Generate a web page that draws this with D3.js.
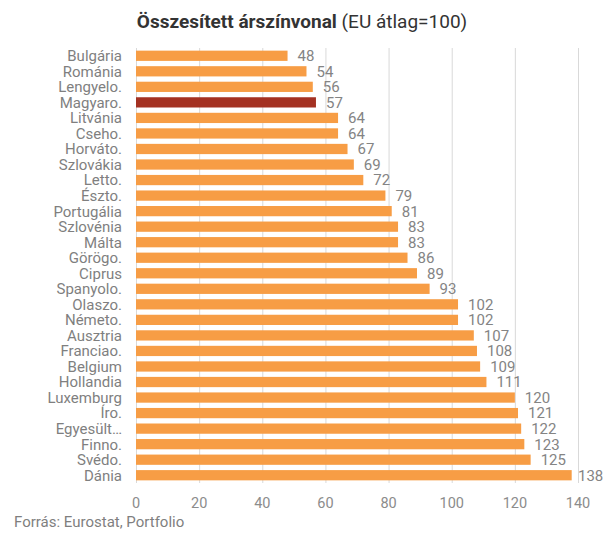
<!DOCTYPE html>
<html><head><meta charset="utf-8">
<script src="https://cdn.jsdelivr.net/npm/d3@7"></script>
<style>body{margin:0;background:#fff;} text{font-family:Roboto, "Noto Sans", sans-serif;}</style>
</head><body>
<svg id="c" width="605" height="539"></svg>
<script>
const categories = ["Bulgária","Románia","Lengyelo.","Magyaro.","Litvánia","Cseho.","Horváto.","Szlovákia","Letto.","Észto.","Portugália","Szlovénia","Málta","Görögo.","Ciprus","Spanyolo.","Olaszo.","Németo.","Ausztria","Franciao.","Belgium","Hollandia","Luxemburg","Íro.","Egyesült…","Finno.","Svédo.","Dánia"];
const values = [48,54,56,57,64,64,67,69,72,79,81,83,83,86,89,93,102,102,107,108,109,111,120,121,122,123,125,138];
const highlight = ["Magyaro."];
const xTicks = [0,20,40,60,80,100,120,140];

(function(){
const svg = d3.select("#c");
const mLeft = 136, mRight = 578, mTop = 48, mBottom = 483;
const x = d3.scaleLinear().domain([0,140]).range([mLeft,mRight]);
const y = d3.scaleBand().domain(categories).range([mTop,mBottom]).paddingInner(0.34).paddingOuter(0.17);

svg.append("g").selectAll("line").data(xTicks).join("line")
  .attr("x1",d=>x(d)+0.5).attr("x2",d=>x(d)+0.5).attr("y1",mTop).attr("y2",mBottom)
  .attr("stroke","#d9d9d9").attr("stroke-width",1);

svg.append("g").selectAll("rect").data(categories).join("rect")
  .attr("x",x(0)).attr("y",d=>y(d)).attr("height",y.bandwidth())
  .attr("width",(d,i)=>x(values[i])-x(0))
  .attr("fill",d=>highlight.includes(d)?"#A43122":"#F79D45");

svg.append("g").selectAll("text").data(categories).join("text")
  .attr("x",mLeft-14).attr("y",d=>y(d)+y.bandwidth()/2).attr("dy","0.36em")
  .attr("text-anchor","end").attr("font-size",15).attr("fill","#7f7f7f")
  .text(d=>d);

svg.append("g").selectAll("text").data(categories).join("text")
  .attr("x",(d,i)=>Math.min(x(values[i])+10, 578)).attr("y",d=>y(d)+y.bandwidth()/2).attr("dy","0.36em")
  .attr("font-size",15).attr("fill","#848484")
  .text((d,i)=>values[i]);

svg.append("g").selectAll("text").data(xTicks).join("text")
  .attr("x",d=>x(d)).attr("y",508).attr("text-anchor","middle")
  .attr("font-size",14.5).attr("fill","#8c8c8c").text(d=>d);

const t = svg.append("text").attr("x",302).attr("y",28).attr("text-anchor","middle")
  .attr("font-size",19).attr("fill","#333");
t.append("tspan").attr("font-weight","bold").text("Összesített árszínvonal");
t.append("tspan").text(" (EU átlag=100)");

svg.append("text").attr("x",14).attr("y",527).attr("font-size",15).attr("fill","#7f7f7f")
  .text("Forrás: Eurostat, Portfolio");
})();
</script>
</body></html>
